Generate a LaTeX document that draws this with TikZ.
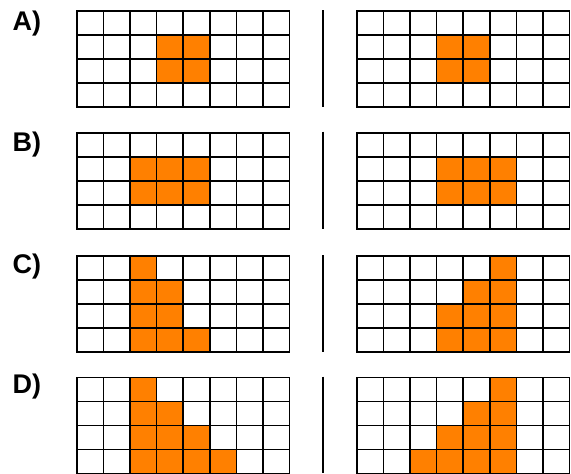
\documentclass[tikz,border=0pt]{standalone}
\usepackage{fontspec}
\setmainfont{Liberation Sans}
\usepackage{tikz}
\usetikzlibrary{positioning}
\definecolor{cellorange}{RGB}{255,128,0}
\tikzset{
	gridline/.style={draw=black, line width=1.6pt, line cap=rect},
	cellfill/.style={fill=cellorange},
	panellabel/.style={anchor=base west, inner sep=0pt,
		font=\bfseries\fontsize{27}{27}\selectfont},
	divider/.style={draw=black, line width=1.7pt}
}
% one 8x4 grid with shaded cells (col/row, counted from top left)
\newcommand{\cellpanel}[3]{
	\begin{scope}[shift={(#1,#2)}]
		\foreach \c/\r in {#3}
			\fill[cellfill] ({(\c-1)*26.6},{(\r-1)*24}) rectangle ++(26.6,24);
		\foreach \i in {0,...,8}
			\draw[gridline] ({\i*26.6},0) -- ++(0,96);
		\foreach \j in {0,...,4}
			\draw[gridline] (0,{\j*24}) -- ++(212.8,0);
	\end{scope}
}

\begin{document}
\begin{tikzpicture}[x=1pt,y=-1pt]
	\useasboundingbox (0,0) rectangle (571,474);
	% A)
	\node[panellabel] (labA) at (12.5,30) {A)};
	\cellpanel{76.7}{11}{4/2,5/2,4/3,5/3}
	\cellpanel{356.7}{11}{4/2,5/2,4/3,5/3}
	\coordinate (divAt) at (323.3,10);
	\coordinate (divAb) at (323.3,107);
	\draw[divider] (divAt) -- (divAb);
	% B)
	\node[panellabel] (labB) at (12.5,151.5) {B)};
	\cellpanel{76.7}{132.7}{3/2,4/2,5/2,3/3,4/3,5/3}
	\cellpanel{356.7}{132.7}{4/2,5/2,6/2,4/3,5/3,6/3}
	\coordinate (divBt) at (323.3,131.7);
	\coordinate (divBb) at (323.3,228.7);
	\draw[divider] (divBt) -- (divBb);
	% C)
	\node[panellabel] (labC) at (12.5,273) {C)};
	\cellpanel{76.7}{256}{3/1,3/2,3/3,3/4,4/2,4/3,4/4,5/4}
	\cellpanel{356.7}{256}{6/1,6/2,6/3,6/4,5/2,5/3,5/4,4/3,4/4}
	\coordinate (divCt) at (323.3,255);
	\coordinate (divCb) at (323.3,352);
	\draw[divider] (divCt) -- (divCb);
	% D)
	\node[panellabel] (labD) at (12.5,393.5) {D)};
	\cellpanel{76.7}{377.3}{3/1,3/2,3/3,3/4,4/2,4/3,4/4,5/3,5/4,6/4}
	\cellpanel{356.7}{377.3}{6/1,6/2,6/3,6/4,5/2,5/3,5/4,4/3,4/4,3/4}
	\coordinate (divDt) at (323.3,376.5);
	\coordinate (divDb) at (323.3,473.3);
	\draw[divider] (divDt) -- (divDb);
\end{tikzpicture}
\end{document}
